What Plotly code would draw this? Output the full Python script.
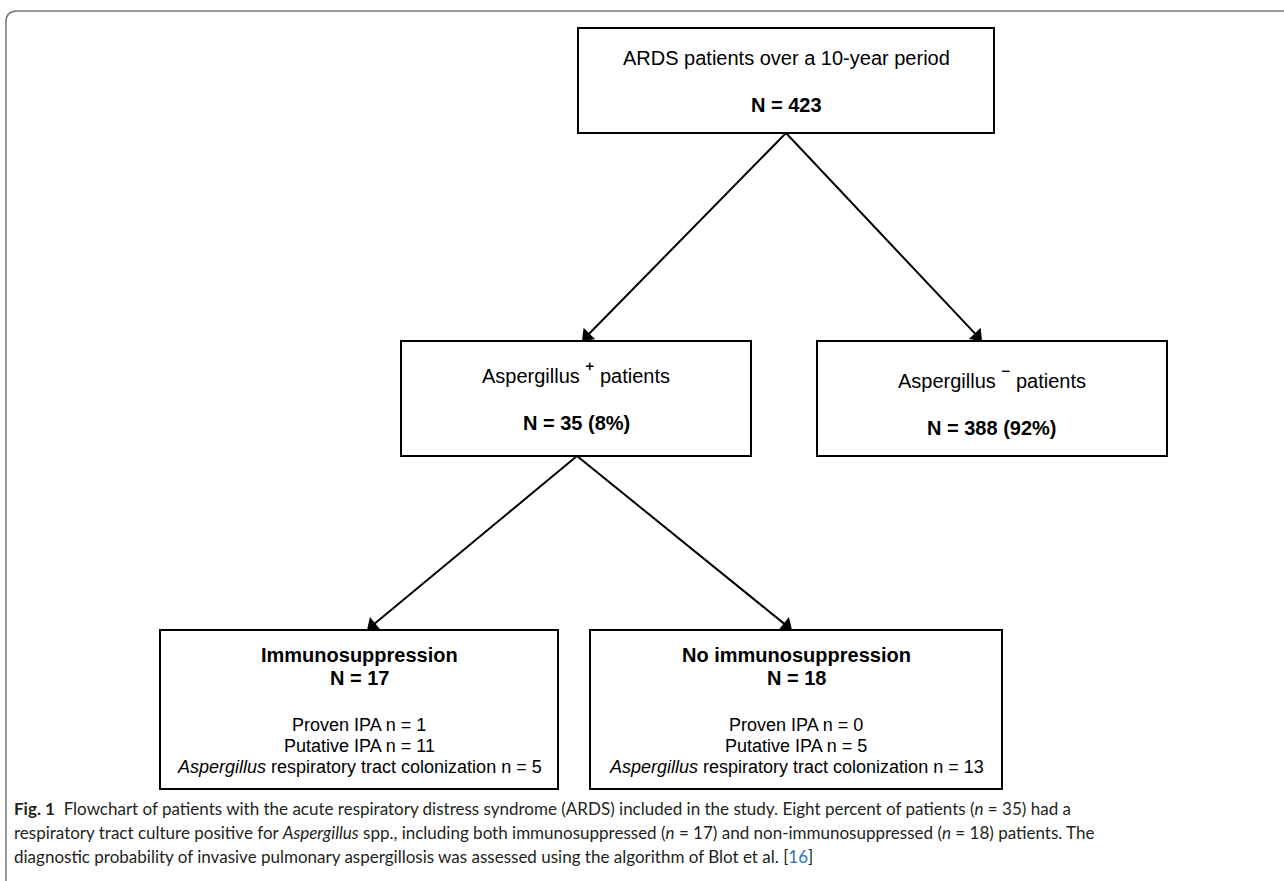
import math
import plotly.graph_objects as go

# ---- data ----
total_n = 423
asp_pos_n, asp_pos_pct = 35, 8
asp_neg_n, asp_neg_pct = 388, 92
immuno_n, no_immuno_n = 17, 18
proven = [1, 0]
putative = [11, 5]
colonization = [5, 13]

W, H = 1284, 881
FONT = "Liberation Sans, Arial, sans-serif"
CAP_FONT = "Lato, Open Sans, sans-serif"

# ---- layout geometry (pixels) ----
boxes = {
    "top": (578, 28, 994, 133),
    "pos": (401, 341, 751, 456),
    "neg": (817, 341, 1167, 456),
    "imm": (160, 630, 558, 789),
    "noimm": (590, 630, 1002, 789),
}
arrow_list = [
    ((786, 133), (582, 341)),
    ((786, 133), (982, 341)),
    ((577, 456), (367, 630)),
    ((577, 456), (792, 630)),
]

fig = go.Figure()
fig.add_trace(go.Scatter(x=[0, W], y=[0, H], mode="markers",
                         marker=dict(opacity=0), hoverinfo="skip", showlegend=False))

shapes = []
for (x0, y0, x1, y1) in boxes.values():
    shapes.append(dict(type="rect", xref="x", yref="y", x0=x0, y0=y0, x1=x1, y1=y1,
                       line=dict(color="black", width=2), fillcolor="rgba(0,0,0,0)"))
# outer frame (top and left edges with rounded corner)
shapes.append(dict(type="path", xref="x", yref="y",
                   path=f"M 6 {H} L 6 22 Q 6 11 17 11 L {W} 11",
                   line=dict(color="#777777", width=1.5)))

# arrows: line + rotated triangle head
MS = 14
r = MS / 2
for (x0, y0), (x1, y1) in arrow_list:
    dx, dy = x1 - x0, y1 - y0
    L = math.hypot(dx, dy)
    ux, uy = dx / L, dy / L
    ang = math.degrees(math.atan2(dx, -dy))
    cx, cy = x1 - ux * r, y1 - uy * r
    fig.add_trace(go.Scatter(x=[x0, x1 - ux * r], y=[y0, y1 - uy * r], mode="lines",
                             line=dict(color="black", width=2),
                             hoverinfo="skip", showlegend=False))
    fig.add_trace(go.Scatter(x=[cx], y=[cy], mode="markers",
                             marker=dict(symbol="triangle-up", size=MS, angle=ang,
                                         color="black", line=dict(width=0)),
                             hoverinfo="skip", showlegend=False))

annotations = []

def txt(x, y, s, size, bold=False, color="black", font=FONT, xanchor="center"):
    annotations.append(dict(x=x, y=y, xref="x", yref="y", text=s, showarrow=False,
                            xanchor=xanchor, yanchor="middle",
                            font=dict(family=font, size=size, color=color,
                                      weight="bold" if bold else "normal")))

SUP = "<span style='font-size:28px'>{}</span>"

# texts in boxes
txt(786, 58, "ARDS patients over a 10-year period", 20)
txt(786, 105, f"N = {total_n}", 20, bold=True)
txt(576, 373, "Aspergillus " + SUP.format("⁺") + " patients", 20)
txt(576, 423, f"N = {asp_pos_n} ({asp_pos_pct}%)", 20, bold=True)
txt(992, 378, "Aspergillus " + SUP.format("⁻") + " patients", 20)
txt(992, 428, f"N = {asp_neg_n} ({asp_neg_pct}%)", 20, bold=True)

for cx, title, n, i in [(359, "Immunosuppression", immuno_n, 0),
                        (796, "No immunosuppression", no_immuno_n, 1)]:
    txt(cx, 655, title, 20, bold=True)
    txt(cx, 678, f"N = {n}", 20, bold=True)
    txt(cx, 725, f"Proven IPA n = {proven[i]}", 18)
    txt(cx, 746, f"Putative IPA n = {putative[i]}", 18)
    txt(cx, 767, f"<i>Aspergillus</i> respiratory tract colonization n = {colonization[i]}", 18)

# caption
cap_color = "#231f20"
txt(12, 808, "<b>Fig. 1</b>  Flowchart of patients with the acute respiratory distress syndrome (ARDS) included in the study. "
    "Eight percent of patients (<i>n</i> = 35) had a", 17, color=cap_color, font=CAP_FONT, xanchor="left")
txt(12, 832, "respiratory tract culture positive for <i>Aspergillus</i> spp., including both immunosuppressed "
    "(<i>n</i> = 17) and non-immunosuppressed (<i>n</i> = 18) patients. The", 17, color=cap_color,
    font=CAP_FONT, xanchor="left")
txt(12, 856, "diagnostic probability of invasive pulmonary aspergillosis was assessed using the algorithm of Blot et al. "
    "[<span style='color:#2f74c0'>16</span>]", 17, color=cap_color, font=CAP_FONT, xanchor="left")

fig.update_layout(
    width=W, height=H, margin=dict(l=0, r=0, t=0, b=0),
    paper_bgcolor="white", plot_bgcolor="white",
    xaxis=dict(range=[0, W], visible=False, fixedrange=True),
    yaxis=dict(range=[H, 0], visible=False, fixedrange=True),
    shapes=shapes, annotations=annotations, showlegend=False,
)

fig.write_html("out.html", config={"displayModeBar": False, "staticPlot": True},
               post_script="document.body.style.margin='0';document.body.style.padding='0';")
